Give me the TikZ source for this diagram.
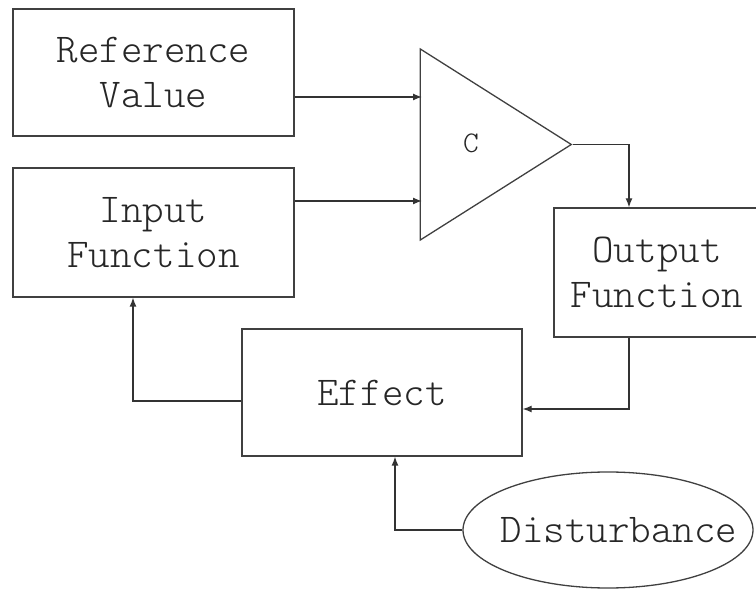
\documentclass[tikz,border=0pt]{standalone}
\usepackage{fontspec}
\newfontfamily\labelfont{Latin Modern Mono Light}
\usetikzlibrary{shapes.geometric,arrows.meta}
\tikzset{
	signal/.style={
		->,
		line width=1.3pt,
		draw=black!80
	},
	outline/.style={
		draw=black!75,
		line width=1.3pt
	}
}

\begin{document}
\begin{tikzpicture}[
					x=1pt,y=-1pt,
					block/.style={
						rectangle,
						outline,
						align=center,
						inner sep=0pt,
						text=black!85,
						font=\labelfont\fontsize{41}{45}\selectfont
					},
					>={Latex[length=9pt,width=7pt]}]

					\useasboundingbox (0,0) rectangle (756,593);

					%%% Nodes
					%% Left hand side
					\node at (153.5,72.5) [block,minimum width=281,minimum height=127] (refvalue) {Reference\\Value};
					\node at (153.5,232.5) [block,minimum width=281,minimum height=129] (inpfunc) {Input\\Function};

					%% Comparator
					\node at (573,144.5) [isosceles triangle,isosceles triangle stretches,outline,anchor=apex,
						inner sep=0pt,minimum width=191,minimum height=151] (comp) {};
					\node at (471,143) [font=\labelfont\fontsize{30}{30}\selectfont,text=black!85] (complabel) {C};

					%% Right hand side and loop
					\node at (657,272.5) [block,minimum width=206,minimum height=129] (outfunc) {Output\\Function};
					\node at (382,392.5) [block,minimum width=280,minimum height=127] (effect) {Effect};
					\node at (608,530) [ellipse,outline,inner sep=0pt,minimum width=290,minimum height=116] (dist) {};
					\node at (619,530) [font=\labelfont\fontsize{41}{45}\selectfont,text=black!85] (disttext) {Disturbance};

					%%% Connections
					\coordinate (cin1) at (422,97);
					\coordinate (cin2) at (422,201);
					\coordinate (cout) at (629,409);
					\coordinate (cback) at (133,401);
					\coordinate (cdist) at (395,530);

					\draw [signal] (refvalue.east |- cin1) -- (cin1);
					\draw [signal] (inpfunc.east |- cin2) -- (cin2);
					\draw [signal] (comp.apex) -| (cout |- outfunc.north);
					\draw [signal] (cout |- outfunc.south) |- (effect.east |- cout);
					\draw [signal] (effect.west |- cback) -| (cback |- inpfunc.south);
					\draw [signal] (dist.west) -| (cdist |- effect.south);
\end{tikzpicture}
\end{document}
